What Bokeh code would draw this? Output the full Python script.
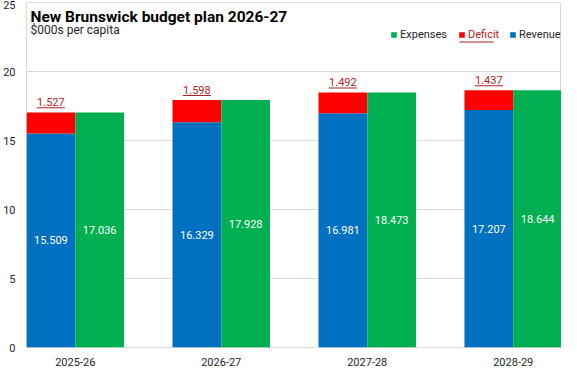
from bokeh.plotting import figure
from bokeh.models import (Range1d, FixedTicker, Label, ColumnDataSource, Legend, LegendItem)
from bokeh.embed import file_html
from bokeh.resources import INLINE
from bokeh.core.properties import value

years = ["2025-26", "2026-27", "2027-28", "2028-29"]
revenue = [15.509, 16.329, 16.981, 17.207]
deficit = [1.527, 1.598, 1.492, 1.437]
expenses = [17.036, 17.928, 18.473, 18.644]
y_ticks = [0, 5, 10, 15, 20, 25]

BLUE = "#0070C0"
RED = "#FF0000"
GREEN = "#00B050"
DRED = "#B01E1E"
GRID = "#D9D9D9"
TXT = "#262626"
FONT = "Roboto"

W, H = 561, 369
BL, BR, BT, BB = 17, 0, 2, 22
FW, FH = W - BL - BR, H - BT - BB

idx = list(range(len(years)))
bw = 0.334
x0, x1 = -bw, len(years) - 1 + bw * 0.99
src = ColumnDataSource(dict(
    lx=[i - bw / 2 for i in idx],
    rx=[i + bw / 2 for i in idx],
    rev=revenue, exp=expenses,
    rev_mid=[r / 2 for r in revenue],
    exp_mid=[e / 2 for e in expenses],
    rev_lbl=[f"{v:.3f}" for v in revenue],
    exp_lbl=[f"{v:.3f}" for v in expenses],
    dfc_lbl=[f"{v:.3f}" for v in deficit],
    lbl_y=[e + 0.74 for e in expenses],
    ul_y=[e + 0.33 for e in expenses],
))

p = figure(width=W, height=H, output_backend="svg", toolbar_location=None,
           x_range=Range1d(x0, x1), y_range=Range1d(0, 25),
           min_border_left=BL, min_border_right=BR, min_border_top=BT, min_border_bottom=BB)

r_rev = p.vbar(x="lx", width=bw, bottom=0, top="rev", source=src, fill_color=BLUE, line_color=None)
r_dfc = p.vbar(x="lx", width=bw, bottom="rev", top="exp", source=src, fill_color=RED, line_color=None)
r_exp = p.vbar(x="rx", width=bw, bottom=0, top="exp", source=src, fill_color=GREEN, line_color=None)

p.text(x="lx", y="rev_mid", text="rev_lbl", source=src, text_color="white",
       text_font=value(FONT), text_font_size="11px", text_align="center", text_baseline="middle")
p.text(x="rx", y="exp_mid", text="exp_lbl", source=src, text_color="white",
       text_font=value(FONT), text_font_size="11px", text_align="center", text_baseline="middle")
p.text(x="lx", y="lbl_y", text="dfc_lbl", source=src, text_color=DRED,
       text_font=value(FONT), text_font_size="11px", text_align="center", text_baseline="middle")
p.rect(x="lx", y="ul_y", width=28, height=1, width_units="screen", height_units="screen",
       source=src, fill_color=DRED, line_color=None)

# axes
p.yaxis.ticker = FixedTicker(ticks=y_ticks)
p.xaxis.ticker = FixedTicker(ticks=idx)
p.xaxis.major_label_overrides = {i: y for i, y in zip(idx, years)}
for ax in (p.xaxis[0], p.yaxis[0]):
    ax.axis_line_color = None
    ax.major_tick_line_color = None
    ax.minor_tick_line_color = None
    ax.major_label_text_font = FONT
    ax.major_label_text_font_size = "11px"
    ax.major_label_text_color = TXT
p.yaxis.major_label_standoff = 5
p.xaxis.major_label_standoff = 4
p.xgrid.grid_line_color = None
p.ygrid.grid_line_color = GRID
p.outline_line_color = GRID
p.background_fill_color = "white"
p.border_fill_color = "white"

# title & subtitle
title = Label(x=x0, y=25, x_offset=4, y_offset=-14,
              text="New Brunswick budget plan 2026-27", text_font=FONT, text_font_size="15.5px",
              text_font_style="bold", text_color="black", text_baseline="alphabetic")
sub = Label(x=x0, y=25, x_offset=4, y_offset=-27,
            text="$000s per capita", text_font=FONT, text_font_size="12px",
            text_color=TXT, text_baseline="alphabetic")
p.add_layout(title)
p.add_layout(sub)

# legend: three single-item legends so each label can carry its own colour
leg_specs = [("Expenses", r_exp, TXT, 180), ("Deficit", r_dfc, DRED, 112), ("Revenue", r_rev, TXT, 61)]
for name, rend, tcol, off in leg_specs:
    lg = Legend(items=[LegendItem(label=name, renderers=[rend])],
                location=(FW - off, FH - 39), orientation="horizontal",
                glyph_width=7, glyph_height=7, label_standoff=3, padding=0, margin=0,
                spacing=0, label_height=13, label_text_font=FONT, label_text_font_size="11px",
                label_text_color=tcol, background_fill_alpha=0, border_line_color=None)
    p.add_layout(lg)

# underline under the "Deficit" legend label
ul = Label(x=x1, y=25, x_offset=-(102 - 17), y_offset=-39.5, text=" ", text_font_size="1px",
           text_baseline="middle", text_align="center",
           background_fill_color=DRED, padding=dict(left=17, right=17, top=0, bottom=0))
p.add_layout(ul)

open("out.html", "w").write(file_html(p, INLINE))
